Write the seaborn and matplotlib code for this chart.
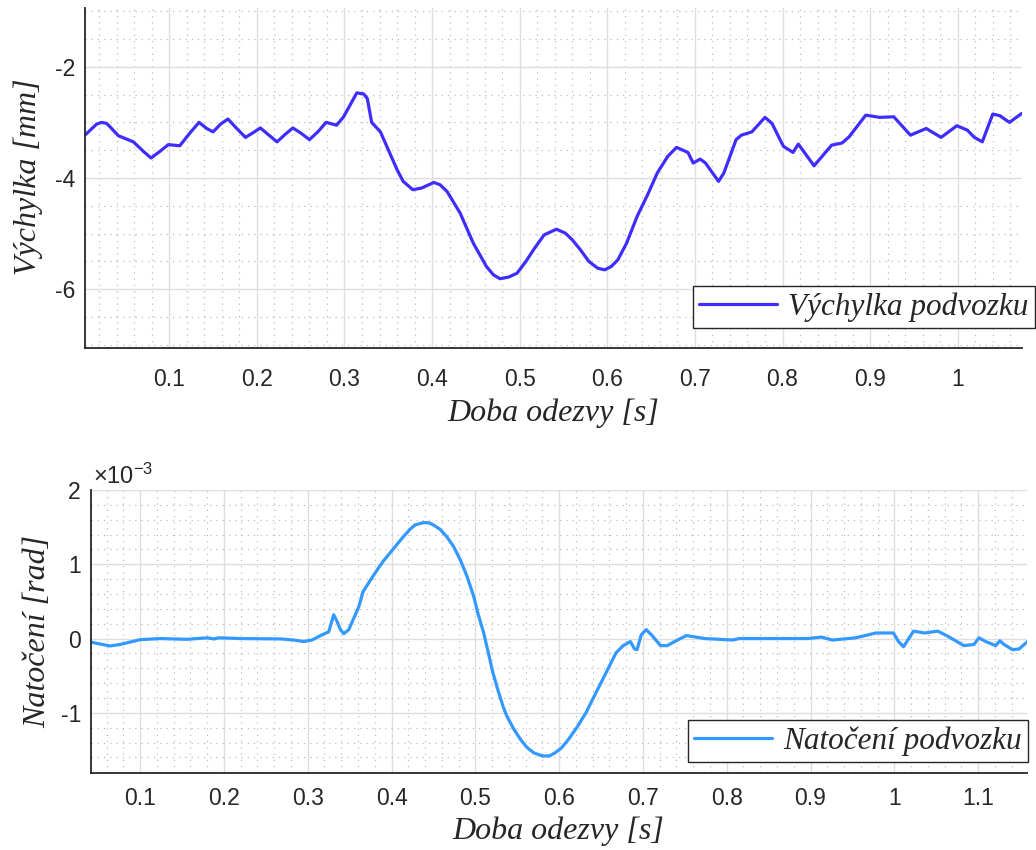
import numpy as np
import pandas as pd
import matplotlib
matplotlib.use("Agg")
import matplotlib.pyplot as plt
from matplotlib.ticker import MultipleLocator, FixedLocator, FuncFormatter
from matplotlib.font_manager import FontProperties
import seaborn as sns

# ---------------- data ----------------
t_top = [0.004, 0.0172, 0.0229, 0.0286, 0.0324, 0.0419, 0.059, 0.0704, 0.0792, 0.0894,
         0.0989, 0.112, 0.1236, 0.134, 0.1427, 0.150, 0.1587, 0.167, 0.177, 0.187,
         0.1952, 0.204, 0.213, 0.223, 0.232, 0.241, 0.250, 0.260, 0.2696, 0.279,
         0.291, 0.299, 0.314, 0.322, 0.326, 0.331, 0.341, 0.360, 0.367, 0.378,
         0.388, 0.402, 0.409, 0.417, 0.432, 0.447, 0.462, 0.470, 0.4775, 0.4874,
         0.497, 0.507, 0.517, 0.528, 0.542, 0.552, 0.560, 0.5693, 0.579, 0.589,
         0.597, 0.6045, 0.612, 0.622, 0.634, 0.646, 0.657, 0.669, 0.679, 0.692,
         0.698, 0.706, 0.712, 0.727, 0.733, 0.747, 0.753, 0.765, 0.780, 0.788,
         0.801, 0.812, 0.818, 0.836, 0.856, 0.868, 0.876, 0.895, 0.911, 0.927,
         0.946, 0.964, 0.981, 0.999, 1.011, 1.019, 1.028, 1.040, 1.048, 1.059,
         1.073]
vychylka = [-3.225, -3.03, -3.00, -3.02, -3.08, -3.24, -3.35, -3.52, -3.64, -3.52,
            -3.40, -3.42, -3.19, -3.00, -3.11, -3.17, -3.03, -2.94, -3.11, -3.27,
            -3.19, -3.10, -3.22, -3.35, -3.22, -3.10, -3.19, -3.31, -3.17, -3.00,
            -3.05, -2.90, -2.47, -2.49, -2.57, -3.00, -3.17, -3.85, -4.06, -4.21,
            -4.18, -4.08, -4.12, -4.24, -4.63, -5.17, -5.59, -5.74, -5.81, -5.78,
            -5.71, -5.50, -5.26, -5.02, -4.92, -4.99, -5.11, -5.29, -5.50, -5.62,
            -5.65, -5.59, -5.47, -5.17, -4.69, -4.30, -3.91, -3.61, -3.45, -3.54,
            -3.73, -3.66, -3.73, -4.06, -3.91, -3.31, -3.23, -3.17, -2.91, -3.02,
            -3.43, -3.54, -3.39, -3.78, -3.41, -3.37, -3.26, -2.87, -2.91, -2.90,
            -3.23, -3.11, -3.27, -3.06, -3.14, -3.27, -3.35, -2.85, -2.88, -3.00,
            -2.84]

t_bot = [0.0404, 0.064, 0.076, 0.100, 0.124, 0.156, 0.180, 0.188, 0.194, 0.220,
         0.268, 0.283, 0.295, 0.305, 0.317, 0.325, 0.331, 0.335, 0.339, 0.343,
         0.349, 0.361, 0.366, 0.375, 0.385, 0.390, 0.398, 0.406, 0.414, 0.422,
         0.428, 0.438, 0.444, 0.450, 0.458, 0.466, 0.474, 0.482, 0.490, 0.498,
         0.5036, 0.510, 0.5155, 0.521, 0.5274, 0.533, 0.5376, 0.546, 0.554, 0.562,
         0.570, 0.580, 0.5886, 0.595, 0.603, 0.611, 0.621, 0.632, 0.6417, 0.652,
         0.660, 0.668, 0.676, 0.685, 0.690, 0.693, 0.698, 0.704, 0.711, 0.721,
         0.729, 0.742, 0.752, 0.774, 0.807, 0.815, 0.897, 0.913, 0.926, 0.954,
         0.978, 0.999, 1.005, 1.011, 1.023, 1.036, 1.052, 1.064, 1.083, 1.095,
         1.101, 1.109, 1.121, 1.126, 1.131, 1.141, 1.149, 1.159]
# rotation in units of 1e-3 rad
natoceni_e3 = [-0.046, -0.10, -0.08, -0.015, 0.0, -0.01, 0.01, -0.005, 0.01, 0.0,
               -0.005, -0.02, -0.04, -0.02, 0.05, 0.09, 0.32, 0.23, 0.12, 0.066,
               0.12, 0.43, 0.63, 0.79, 0.96, 1.04, 1.15, 1.26, 1.37, 1.47,
               1.53, 1.56, 1.56, 1.53, 1.47, 1.37, 1.24, 1.06, 0.84, 0.57,
               0.32, 0.075, -0.19, -0.46, -0.71, -0.91, -1.045, -1.22, -1.36, -1.47,
               -1.54, -1.58, -1.58, -1.54, -1.47, -1.36, -1.20, -1.00, -0.78, -0.55,
               -0.37, -0.19, -0.10, -0.04, -0.14, -0.15, 0.05, 0.12, 0.04, -0.095,
               -0.095, -0.015, 0.04, 0.0, -0.02, 0.0, 0.0, 0.02, -0.02, 0.01,
               0.075, 0.075, -0.04, -0.11, 0.10, 0.075, 0.10, 0.03, -0.095, -0.08,
               0.01, -0.04, -0.095, -0.03, -0.08, -0.15, -0.14, -0.04]

xticks_top = [0.1, 0.2, 0.3, 0.4, 0.5, 0.6, 0.7, 0.8, 0.9, 1.0]
yticks_top = [-6, -4, -2]
xticks_bot = [0.1, 0.2, 0.3, 0.4, 0.5, 0.6, 0.7, 0.8, 0.9, 1.0, 1.1]
yticks_bot = [-1, 0, 1, 2]

label_top = "Výchylka podvozku"
label_bot = "Natočení podvozku"
xlabel = "Doba odezvy [s]"
ylabel_top = "Výchylka [mm]"
ylabel_bot = "Natočení [rad]"

# ---------------- style ----------------
sns.set_style("white")
plt.rcParams['font.family'] = ['Liberation Sans', 'DejaVu Sans']
plt.rcParams['axes.unicode_minus'] = False
plt.rcParams['mathtext.default'] = 'regular'

DARK = '#262626'
MAJ_GRID = '#dedede'
MIN_GRID = '#bdbdbd'
C_TOP = '#3f2dff'
C_BOT = '#3399ff'

serif_lbl = dict(family=['Liberation Serif', 'DejaVu Serif'], style='italic', size=23, color=DARK)
leg_font = FontProperties(family=['Liberation Serif', 'DejaVu Serif'], style='italic', size=22.5)

W, H = 1036, 850
fig = plt.figure(figsize=(W / 100, H / 100), dpi=100)

ax1 = fig.add_axes([85 / W, 1 - 348.3 / H, 936.7 / W, 340 / H])
ax2 = fig.add_axes([90.7 / W, 1 - 773 / H, 936 / W, 283 / H])

df_top = pd.DataFrame({'t': t_top, 'v': vychylka})
df_bot = pd.DataFrame({'t': t_bot, 'r': natoceni_e3})

sns.lineplot(data=df_top, x='t', y='v', ax=ax1, color=C_TOP, lw=2.3,
             sort=False, estimator=None, label=label_top)
sns.lineplot(data=df_bot, x='t', y='r', ax=ax2, color=C_BOT, lw=2.3,
             sort=False, estimator=None, label=label_bot)
for ax in (ax1, ax2):
    for ln in ax.get_lines():
        ln.set_solid_joinstyle('round')
        ln.set_solid_capstyle('round')

fmt = FuncFormatter(lambda v, p: f"{v:g}")


def style_axes(ax, xlim, ylim, xt, yt, yminor, xpad):
    ax.set_xlim(*xlim)
    ax.set_ylim(*ylim)
    ax.xaxis.set_major_locator(FixedLocator(xt))
    ax.yaxis.set_major_locator(FixedLocator(yt))
    ax.xaxis.set_major_formatter(fmt)
    ax.yaxis.set_major_formatter(fmt)
    ax.xaxis.set_minor_locator(MultipleLocator(0.02))
    ax.yaxis.set_minor_locator(MultipleLocator(yminor))
    for s in ['top', 'right']:
        ax.spines[s].set_visible(False)
    for s in ['left', 'bottom']:
        ax.spines[s].set_color(DARK)
        ax.spines[s].set_linewidth(1.3)
    ax.tick_params(axis='both', which='major', direction='in', length=7, width=1.3,
                   color=DARK, labelcolor=DARK, labelsize=16.5)
    ax.tick_params(axis='x', which='major', pad=xpad)
    ax.tick_params(axis='y', which='major', pad=7)
    ax.tick_params(axis='both', which='minor', length=0)
    ax.grid(which='major', color=MAJ_GRID, linestyle='-', linewidth=1.0)
    ax.grid(which='minor', color=MIN_GRID, linestyle=(0, (1, 4)), linewidth=0.9)
    ax.set_axisbelow(True)
    ax.set_xlabel(xlabel, **serif_lbl)


style_axes(ax1, (0.0038, 1.073), (-7.06, -0.95), xticks_top, yticks_top, 0.5, 14)
style_axes(ax2, (0.041, 1.158), (-1.81, 2.0), xticks_bot, yticks_bot, 0.2, 10)

ax1.set_ylabel(ylabel_top, **serif_lbl)
ax2.set_ylabel(ylabel_bot, **serif_lbl)
ax1.xaxis.set_label_coords(0.5, -50 / 340)
ax2.xaxis.set_label_coords(0.5, -43 / 283)
ax1.yaxis.set_label_coords(-42 / 936.7, 0.505)
ax2.yaxis.set_label_coords(-38.7 / 936, 0.5)

# exponent marker
fig.text(93 / W, 1 - 484 / H, r"×10$^{-3}$", fontsize=17, color=DARK,
         ha='left', va='baseline')

for ax, anchor in [(ax1, (1035 / W, 1 - 328 / H)), (ax2, (1028 / W, 1 - 762 / H))]:
    leg = ax.legend(loc='lower right', bbox_to_anchor=anchor, bbox_transform=fig.transFigure,
                    frameon=True, fancybox=False, edgecolor='#262626', framealpha=1,
                    borderpad=0.2, handlelength=2.5, handletextpad=0.35,
                    borderaxespad=0, prop=leg_font)
    leg.get_frame().set_linewidth(1.0)
    for ln in leg.get_lines():
        ln.set_linewidth(2.3)

fig.savefig("out.png", dpi=100)
